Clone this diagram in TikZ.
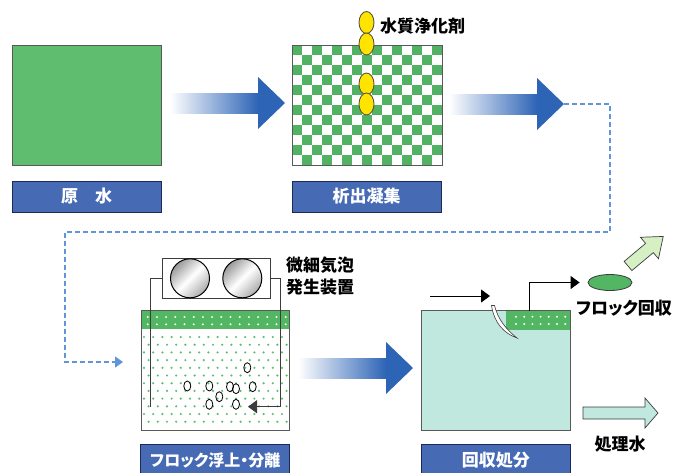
\documentclass[tikz,border=0pt]{standalone}
\usepackage{fontspec}
\setmainfont{Noto Sans CJK JP}[RawFeature=+palt]
\usepackage{tikz}
\usetikzlibrary{arrows.meta,shapes.geometric}
\definecolor{rawgreen}{RGB}{95,189,112}
\definecolor{checkgreen}{RGB}{80,178,98}
\definecolor{labelblue}{RGB}{70,106,180}
\definecolor{labelnavy}{RGB}{30,42,85}
\definecolor{flowblue}{RGB}{45,100,182}
\definecolor{dashblue}{RGB}{95,150,215}
\definecolor{tankteal}{RGB}{192,232,222}
\definecolor{floatgreen}{RGB}{82,182,98}
\definecolor{dotgreen}{RGB}{95,190,110}
\definecolor{agentyellow}{RGB}{255,228,0}
\definecolor{paleleaf}{RGB}{214,240,196}
\definecolor{pipegray}{RGB}{60,60,60}

\begin{document}
\begin{tikzpicture}[x=1pt, y=-1pt,
    stagelabel/.style={draw=labelnavy, fill=labelblue, text=white, line width=0.8pt,
      font=\bfseries\fontsize{17}{17}\selectfont, minimum width=149pt, minimum height=31pt, inner sep=0pt},
    tankbox/.style={draw=black!65, line width=0.8pt, inner sep=0pt},
    note/.style={font=\bfseries\fontsize{17}{22}\selectfont, inner sep=0pt},
    bubble/.style={draw=black, line width=0.8pt},
    pipe/.style={draw=pipegray, line width=0.9pt},
    tip/.style={-{Triangle[length=9pt,width=13pt]}}]
    \fill[white] (0,0) rectangle (675,472);
    \useasboundingbox (0,0) rectangle (675,472);

    % Raw water
    \node[tankbox, fill=rawgreen, minimum width=149pt, minimum height=120pt] (raw) at (86.5,105) {};
    \node[stagelabel] (rawlbl) at (86.5,196.5) {原　水};

    % Coagulation: checker board of flocs
    \foreach \i in {0,...,14}
        \foreach \j in {0,...,11} {
            \pgfmathtruncatemacro\odd{mod(\i+\j,2)}
            \ifnum\odd=0 \fill[checkgreen] (292+\i*10,45+\j*10) rectangle ++(10,10); \fi
        }
    \node[tankbox, minimum width=150pt, minimum height=120pt] (coag) at (367,105) {};
    \node[stagelabel] (coaglbl) at (366.5,196.5) {析出凝集};

    % Purifying agent drops
    \foreach \ey in {22.5,44,84,104}
        \filldraw[fill=agentyellow, draw=black!75!yellow, line width=0.9pt] (366.5,\ey) ellipse (7.5 and 11);
    \node[note, anchor=west] (agent) at (380,26) {水質浄化剤};

    % Flow arrows
    \foreach \xa/\ya in {170/103, 449/104, 298/368} {
        \shade[left color=white, right color=flowblue] (\xa,\ya-10) rectangle (\xa+88,\ya+10);
        \fill[flowblue] (\xa+88,\ya-26) -- (\xa+115,\ya) -- (\xa+88,\ya+26) -- cycle;
    }

    % Return line to the flotation tank
    \coordinate (turn) at (564,104);
    \coordinate (feed) at (123,362);
    \draw[dashblue, line width=1.2pt, dash pattern=on 5pt off 3pt, -{Triangle[length=8pt,width=11pt]}]
        (turn) -- (610,104) -- (610,232) -- (65,232) -- (65,362) -- (feed);

    % Flotation tank
    \fill[floatgreen] (141.7,310.7) rectangle (289,329);
    \foreach \c in {0,...,15}
        \foreach \r in {0,1}
            \fill[white] (147.7+\c*9.2,317+\r*7.3) circle (1.1);
    \foreach \r in {0,...,11}
        \foreach \c in {0,...,15} {
            \pgfmathsetmacro\dx{mod(\r,2)*4.6}
            \fill[dotgreen] (144+\c*9.2+\dx,337+\r*7.7) circle (1.2);
        }
    \foreach \bx/\by in {247.3/367.7, 187.3/386, 209.3/386, 230/386.7, 236/388.7,
                         252.7/386.7, 219.3/396.7, 209.3/404.3, 236/404.3}
        \draw[bubble] (\bx,\by) ellipse (3.5 and 5);
    \node[tankbox, minimum width=147.3pt, minimum height=119.3pt] (flot) at (215.3,370.3) {};
    \node[stagelabel, font=\bfseries\fontsize{16}{16}\selectfont] (flotlbl) at (215.3,460) {フロック浮上・分離};

    % Micro bubble generator
    \node[draw=pipegray, fill=white, line width=0.9pt, minimum width=108pt, minimum height=40pt, inner sep=0pt] (pump) at (216,278.3) {};
    \foreach \cx/\nm in {190/pumpa, 242.3/pumpb}
        \node[circle, draw=black, line width=1pt, minimum size=39pt, inner sep=0pt,
              top color=gray!80, bottom color=gray!65, middle color=white, shading angle=45] (\nm) at (\cx,278.3) {};
    \coordinate (outlet) at (248,406.7);
    \draw[pipe] (pump.west) -| (150.7,406.7);
    \draw[pipe, tip] (pump.east) -| (280.7,406.7) -- (outlet);
    \node[note, anchor=west, align=left] (pumplbl) at (286,276) {微細気泡\\発生装置};

    % Separation tank
    \fill[tankteal] (421.7,310.7) rectangle (570,430);
    \fill[floatgreen] (506,310.7) rectangle (570,330);
    \foreach \c in {0,...,6}
        \foreach \r in {0,1}
            \fill[white] (516+\c*8.2,316.7+\r*7.3) circle (1.1);
    \node[tankbox, minimum width=148.3pt, minimum height=119.3pt] (sep) at (495.8,370.3) {};
    \node[stagelabel] (seplbl) at (495.8,460) {回収処分};

    % Skimmer blade and inflow
    \filldraw[fill=white, draw=pipegray, line width=0.6pt]
        (491.5,305.5) .. controls (494,322) and (503,333) .. (517,338)
        .. controls (507,330) and (498,320) .. (494.5,305.5) -- cycle;
    \coordinate (inlet) at (430,296);
    \coordinate (skim) at (490,296);
    \draw[line width=0.8pt, tip] (inlet) -- (skim);

    % Floc recovery
    \node[ellipse, draw=pipegray, fill=floatgreen, line width=0.8pt, minimum width=44pt, minimum height=16pt, inner sep=0pt] (floc) at (610,282.5) {};
    \draw[line width=0.8pt, tip, shorten >=8pt] (529.3,310.7) |- (floc.west);
    \node[note] (floclbl) at (624,308) {フロック回収};
    \begin{scope}[shift={(628,266)}, rotate=40]
        \filldraw[fill=paleleaf, draw=pipegray, line width=0.7pt]
            (0,-6) -- (28,-6) -- (28,-14) -- (46,0) -- (28,14) -- (28,6) -- (0,6) -- cycle;
    \end{scope}

    % Treated water
    \filldraw[fill=tankteal, draw=pipegray, line width=0.7pt]
        (583,407) -- (645,407) -- (645,398) -- (658,413) -- (645,428) -- (645,419) -- (583,419) -- cycle;
    \node[note] (waterlbl) at (620,444) {処理水};
\end{tikzpicture}
\end{document}
